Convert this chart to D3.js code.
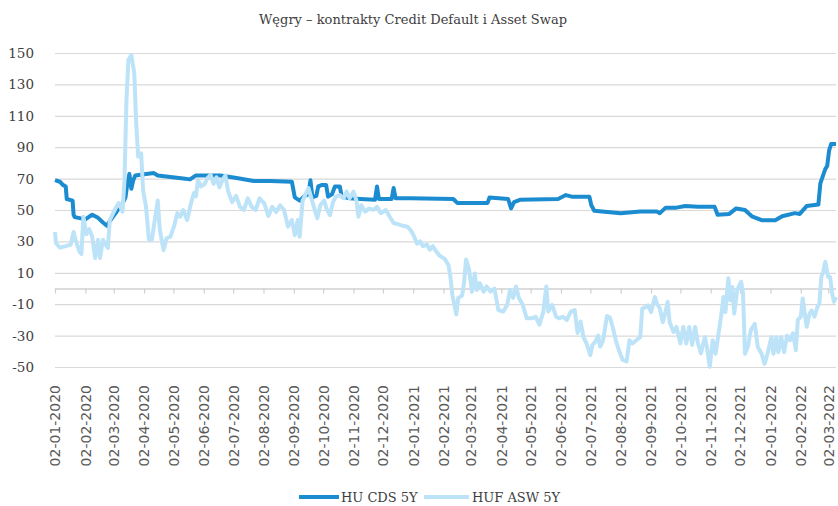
<!DOCTYPE html>
<html>
<head>
<meta charset="utf-8">
<script src="https://cdn.jsdelivr.net/npm/d3@7"></script>
<style>
  body { margin: 0; background: #fff; }
  svg { display: block; }
</style>
</head>
<body>
<svg width="838" height="506"></svg>
<script>
var chart_title = "Węgry – kontrakty Credit Default i Asset Swap";
var series_names = ["HU CDS 5Y", "HUF ASW 5Y"];
var y_ticks = [-50, -30, -10, 10, 30, 50, 70, 90, 110, 130, 150];

// HU CDS 5Y
var hu_cds_5y = [
  ["2020-01-02", 69], ["2020-01-07", 68], ["2020-01-10", 66], ["2020-01-13", 65],
  ["2020-01-14", 57], ["2020-01-20", 56], ["2020-01-21", 47], ["2020-01-22", 45.5],
  ["2020-01-26", 45], ["2020-02-02", 44], ["2020-02-09", 47], ["2020-02-15", 45],
  ["2020-02-20", 42], ["2020-02-24", 40], ["2020-02-27", 43], ["2020-03-04", 48],
  ["2020-03-08", 52], ["2020-03-11", 54], ["2020-03-14", 58], ["2020-03-16", 67],
  ["2020-03-18", 73], ["2020-03-20", 63.5], ["2020-03-22", 69], ["2020-03-24", 72],
  ["2020-04-12", 73.5], ["2020-04-16", 72], ["2020-05-12", 70], ["2020-05-19", 69.5],
  ["2020-05-25", 72], ["2020-06-19", 72], ["2020-07-04", 70.5], ["2020-07-23", 68.5],
  ["2020-08-09", 68.5], ["2020-08-31", 68], ["2020-09-03", 58], ["2020-09-08", 56],
  ["2020-09-13", 59], ["2020-09-17", 60], ["2020-09-19", 69], ["2020-09-21", 58],
  ["2020-09-25", 59], ["2020-09-27", 65], ["2020-10-01", 66], ["2020-10-05", 66],
  ["2020-10-07", 58.5], ["2020-10-11", 60], ["2020-10-14", 65], ["2020-10-19", 65],
  ["2020-10-21", 58.5], ["2020-10-29", 57.5], ["2020-11-09", 57], ["2020-11-24", 56.5],
  ["2020-11-26", 65], ["2020-11-28", 57], ["2020-12-11", 57], ["2020-12-13", 64],
  ["2020-12-15", 57.5], ["2020-12-30", 57.5],
  ["2021-02-12", 57], ["2021-02-16", 54.5], ["2021-03-19", 54.5], ["2021-03-21", 58],
  ["2021-04-09", 57], ["2021-04-12", 51], ["2021-04-15", 55], ["2021-04-21", 56.5],
  ["2021-05-30", 57], ["2021-06-07", 59.5], ["2021-06-13", 58.5], ["2021-07-01", 58.5],
  ["2021-07-03", 53], ["2021-07-06", 49.5], ["2021-08-02", 48], ["2021-08-22", 49],
  ["2021-09-08", 49], ["2021-09-11", 48], ["2021-09-17", 51.5], ["2021-09-28", 51.5],
  ["2021-10-07", 52.5], ["2021-10-20", 52], ["2021-11-06", 52], ["2021-11-09", 47],
  ["2021-11-21", 47.5], ["2021-11-28", 51], ["2021-12-07", 50], ["2021-12-14", 46],
  ["2021-12-24", 43.5], ["2022-01-07", 43.5], ["2022-01-14", 46], ["2022-01-27", 48],
  ["2022-02-01", 47.5], ["2022-02-08", 52.5], ["2022-02-20", 53.5], ["2022-02-22", 67],
  ["2022-02-27", 76], ["2022-03-01", 78], ["2022-03-03", 88], ["2022-03-05", 92],
  ["2022-03-10", 92]
];

// HUF ASW 5Y
var huf_asw_5y = [
  ["2020-01-02", 36], ["2020-01-03", 29], ["2020-01-07", 26], ["2020-01-13", 27],
  ["2020-01-18", 28], ["2020-01-21", 36], ["2020-01-23", 31], ["2020-01-27", 23.5],
  ["2020-01-29", 22], ["2020-01-31", 45.7], ["2020-02-03", 34.6], ["2020-02-06", 37.8],
  ["2020-02-09", 33], ["2020-02-12", 19.4], ["2020-02-15", 31], ["2020-02-17", 19.4],
  ["2020-02-20", 31], ["2020-02-25", 25.8], ["2020-02-27", 43.6], ["2020-03-03", 50],
  ["2020-03-07", 54.4], ["2020-03-11", 49], ["2020-03-13", 69], ["2020-03-15", 120],
  ["2020-03-17", 145.5], ["2020-03-20", 148.7], ["2020-03-23", 137], ["2020-03-25", 105],
  ["2020-03-27", 84], ["2020-03-30", 86], ["2020-04-01", 62.7], ["2020-04-04", 52],
  ["2020-04-07", 31], ["2020-04-10", 31], ["2020-04-14", 48], ["2020-04-16", 56],
  ["2020-04-18", 38], ["2020-04-20", 31], ["2020-04-22", 24.5], ["2020-04-25", 32],
  ["2020-04-29", 33], ["2020-05-03", 40.4], ["2020-05-06", 48], ["2020-05-09", 45.7],
  ["2020-05-12", 50], ["2020-05-16", 43.6], ["2020-05-20", 54.4], ["2020-05-23", 60.8],
  ["2020-05-25", 58.7], ["2020-05-27", 69], ["2020-05-30", 65], ["2020-06-03", 66.6],
  ["2020-06-06", 70.4], ["2020-06-09", 72.3], ["2020-06-12", 66.6], ["2020-06-15", 70.8],
  ["2020-06-18", 64.4], ["2020-06-21", 69], ["2020-06-24", 72], ["2020-06-27", 61.7],
  ["2020-07-01", 55], ["2020-07-05", 59], ["2020-07-09", 52], ["2020-07-13", 50],
  ["2020-07-17", 57.4], ["2020-07-21", 52], ["2020-07-25", 50], ["2020-07-29", 57.4],
  ["2020-08-03", 54], ["2020-08-07", 46.2], ["2020-08-11", 52], ["2020-08-15", 48.7],
  ["2020-08-19", 53], ["2020-08-23", 50], ["2020-08-27", 39.4], ["2020-08-31", 43.6],
  ["2020-09-03", 34], ["2020-09-06", 43.6], ["2020-09-08", 33], ["2020-09-11", 56],
  ["2020-09-14", 59.9], ["2020-09-17", 64], ["2020-09-20", 57.4], ["2020-09-23", 51],
  ["2020-09-26", 44.7], ["2020-09-29", 53], ["2020-10-03", 56], ["2020-10-06", 50],
  ["2020-10-09", 46.7], ["2020-10-12", 55], ["2020-10-15", 58.5], ["2020-10-19", 59.5],
  ["2020-10-23", 57.5], ["2020-10-26", 61.7], ["2020-10-29", 57.5], ["2020-11-02", 61.7],
  ["2020-11-05", 56], ["2020-11-07", 45.7], ["2020-11-10", 53], ["2020-11-14", 49],
  ["2020-11-18", 51], ["2020-11-22", 50], ["2020-11-26", 52], ["2020-11-30", 48],
  ["2020-12-05", 50], ["2020-12-09", 45.7], ["2020-12-13", 41.7], ["2020-12-18", 40.8],
  ["2020-12-22", 40], ["2020-12-27", 39.4], ["2020-12-31", 36.6], ["2021-01-03", 33],
  ["2021-01-06", 28.5], ["2021-01-09", 30], ["2021-01-12", 27], ["2021-01-16", 28],
  ["2021-01-19", 24.7], ["2021-01-22", 27], ["2021-01-25", 24], ["2021-01-29", 20.8],
  ["2021-02-03", 19], ["2021-02-07", 15], ["2021-02-09", 7.5], ["2021-02-11", -4],
  ["2021-02-15", -16.5], ["2021-02-17", -6], ["2021-02-21", -4.5], ["2021-02-23", 4],
  ["2021-02-25", 18.5], ["2021-02-28", 12.4], ["2021-03-03", -2], ["2021-03-06", 9.5],
  ["2021-03-08", -1], ["2021-03-11", 3.4], ["2021-03-15", -2], ["2021-03-18", 1.3],
  ["2021-03-22", -2], ["2021-03-26", 0], ["2021-03-30", -13.7], ["2021-04-04", -14.7],
  ["2021-04-08", -10.5], ["2021-04-11", -1], ["2021-04-14", -6], ["2021-04-17", 1.3],
  ["2021-04-20", -6], ["2021-04-24", -10.5], ["2021-04-28", -19], ["2021-05-03", -19],
  ["2021-05-07", -18], ["2021-05-11", -23], ["2021-05-15", -14.7], ["2021-05-18", 1.3],
  ["2021-05-20", -14.7], ["2021-05-24", -10.5], ["2021-05-28", -18], ["2021-05-31", -19],
  ["2021-06-04", -18], ["2021-06-08", -20], ["2021-06-12", -14.7], ["2021-06-16", -13.7],
  ["2021-06-19", -28.4], ["2021-06-22", -21], ["2021-06-25", -31], ["2021-06-28", -35],
  ["2021-07-02", -42.4], ["2021-07-04", -36], ["2021-07-07", -34], ["2021-07-10", -30],
  ["2021-07-12", -37], ["2021-07-15", -33], ["2021-07-19", -17.5], ["2021-07-22", -18.5],
  ["2021-07-25", -25], ["2021-07-28", -33], ["2021-07-31", -39], ["2021-08-04", -45.5],
  ["2021-08-08", -46.5], ["2021-08-11", -33], ["2021-08-14", -35], ["2021-08-18", -33],
  ["2021-08-22", -31], ["2021-08-24", -12.8], ["2021-08-27", -12], ["2021-08-30", -10.8],
  ["2021-09-02", -15], ["2021-09-06", -5.4], ["2021-09-08", -9.6], ["2021-09-11", -12.8],
  ["2021-09-14", -21.4], ["2021-09-16", -17], ["2021-09-19", -8.5], ["2021-09-21", -21.4],
  ["2021-09-25", -27.7], ["2021-09-28", -24.5], ["2021-10-02", -35], ["2021-10-05", -24.5],
  ["2021-10-08", -35], ["2021-10-11", -24.5], ["2021-10-14", -36], ["2021-10-17", -24.5],
  ["2021-10-20", -35], ["2021-10-23", -41.3], ["2021-10-27", -31], ["2021-10-29", -37],
  ["2021-11-01", -49.8], ["2021-11-04", -33], ["2021-11-07", -41.6], ["2021-11-10", -28.6],
  ["2021-11-13", -16], ["2021-11-15", -5.4], ["2021-11-17", -15], ["2021-11-20", 6.5],
  ["2021-11-22", -7.5], ["2021-11-24", 1], ["2021-11-26", -16], ["2021-11-29", -1],
  ["2021-12-03", 4.3], ["2021-12-05", -3], ["2021-12-07", -41.6], ["2021-12-10", -37],
  ["2021-12-13", -26.5], ["2021-12-17", -22.5], ["2021-12-20", -37], ["2021-12-24", -41.6],
  ["2021-12-27", -48], ["2021-12-30", -41.6], ["2022-01-03", -31], ["2022-01-05", -41.6],
  ["2022-01-08", -31], ["2022-01-10", -40.6], ["2022-01-13", -31], ["2022-01-16", -40.6],
  ["2022-01-19", -30], ["2022-01-22", -33], ["2022-01-25", -28.6], ["2022-01-28", -39.3],
  ["2022-01-30", -20], ["2022-02-02", -18], ["2022-02-04", -6.4], ["2022-02-08", -24.4],
  ["2022-02-11", -16], ["2022-02-13", -14], ["2022-02-16", -18], ["2022-02-19", -11.8],
  ["2022-02-21", -9.6], ["2022-02-23", 7.4], ["2022-02-25", 10.6], ["2022-02-27", 17],
  ["2022-03-02", 7.4], ["2022-03-04", 7.4], ["2022-03-06", -3], ["2022-03-08", -8.5],
  ["2022-03-10", -5.4]
];

var parse_date = d3.timeParse("%Y-%m-%d");
var format_tick = d3.timeFormat("%d-%m-%Y");

var svg = d3.select("svg");

var plot_left = 55, plot_right = 836, plot_top = 53, plot_bottom = 367;
var label_top = 385;

var x = d3.scaleTime()
  .domain([parse_date("2020-01-02"), parse_date("2022-03-10")])
  .range([plot_left, plot_right]);

var y = d3.scaleLinear()
  .domain([-50, 150])
  .range([plot_bottom, plot_top]);

var month_ticks = d3.timeMonth.range(parse_date("2020-01-01"), parse_date("2022-03-03"))
  .map(function(d) { return d3.timeDay.offset(d, 1); });

var serif = "'DejaVu Serif', serif";

// title
svg.append("text")
  .attr("x", 413)
  .attr("y", 24)
  .attr("text-anchor", "middle")
  .style("font-family", serif)
  .style("font-size", "13px")
  .style("fill", "#404040")
  .text(chart_title);

// horizontal gridlines
svg.append("g")
  .selectAll("line")
  .data(y_ticks)
  .join("line")
  .attr("x1", plot_left)
  .attr("x2", plot_right)
  .attr("y1", function(d) { return y(d) + 0.5; })
  .attr("y2", function(d) { return y(d) + 0.5; })
  .attr("stroke", "#d9d9d9")
  .attr("stroke-width", 1.2);

// y labels
svg.append("g")
  .selectAll("text")
  .data(y_ticks)
  .join("text")
  .attr("x", 34)
  .attr("y", function(d) { return y(d) + 5; })
  .attr("text-anchor", "end")
  .style("font-family", serif)
  .style("font-size", "13.5px")
  .style("fill", "#404040")
  .text(function(d) { return d; });

// x axis at zero
var x_axis = d3.axisBottom(x)
  .tickValues(month_ticks)
  .tickSize(5)
  .tickFormat(format_tick);

var axis_g = svg.append("g")
  .attr("transform", "translate(0," + y(0) + ")")
  .call(x_axis);

axis_g.select(".domain")
  .attr("stroke", "#d0d0d0")
  .attr("stroke-width", 1.5)
  .attr("d", "M" + plot_left + ",0.5H" + plot_right);
axis_g.selectAll(".tick line")
  .attr("stroke", "#d0d0d0")
  .attr("stroke-width", 1.2);
// labels sit below the plot area, not below the zero line
axis_g.selectAll(".tick text")
  .attr("transform", "translate(0," + (label_top - y(0)) + ") rotate(-90)")
  .attr("x", 0)
  .attr("y", 0)
  .attr("dy", "0.35em")
  .attr("text-anchor", "end")
  .style("font-family", "'DejaVu Sans', sans-serif")
  .style("font-size", "14px")
  .style("fill", "#595959");

// lines
var line = d3.line()
  .x(function(d) { return x(parse_date(d[0])); })
  .y(function(d) { return y(d[1]); });

var colors = ["#1c8cd0", "#bde3f8"];

svg.append("path")
  .datum(hu_cds_5y)
  .attr("fill", "none")
  .attr("stroke", colors[0])
  .attr("stroke-width", 4)
  .attr("stroke-linejoin", "round")
  .attr("d", line);

svg.append("path")
  .datum(huf_asw_5y)
  .attr("fill", "none")
  .attr("stroke", colors[1])
  .attr("stroke-width", 4)
  .attr("stroke-linejoin", "round")
  .attr("d", line);

// legend
var legend_x = [299, 424];
var legend = svg.append("g")
  .selectAll("g")
  .data(series_names)
  .join("g")
  .attr("transform", function(d, i) { return "translate(" + legend_x[i] + ",497)"; });

legend.append("line")
  .attr("x1", 0)
  .attr("x2", function(d, i) { return i == 0 ? 40 : 45; })
  .attr("stroke", function(d, i) { return colors[i]; })
  .attr("stroke-width", 4);

legend.append("text")
  .attr("x", function(d, i) { return i == 0 ? 42 : 48; })
  .attr("y", 5)
  .style("font-family", serif)
  .style("font-size", "13px")
  .style("fill", "#404040")
  .text(function(d) { return d; });
</script>
</body>
</html>
